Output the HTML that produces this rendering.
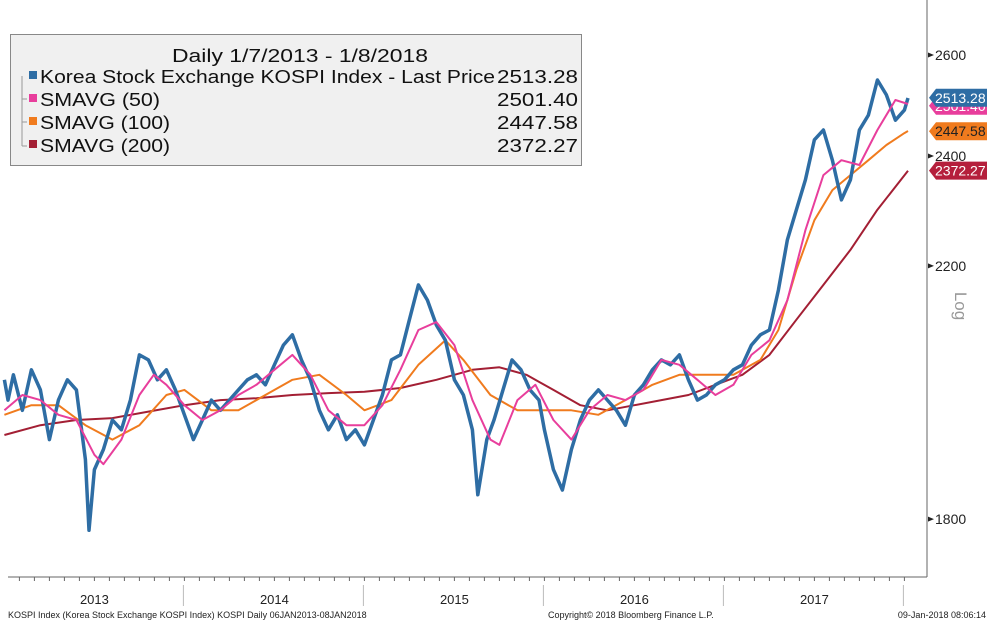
<!DOCTYPE html>
<html><head><meta charset="utf-8"><style>
html,body{margin:0;padding:0;background:#fff;}
svg{display:block;font-family:"Liberation Sans",sans-serif;}
</style></head><body>
<svg id="c" width="994" height="642" viewBox="0 0 994 642"></svg>
<script>
const priceDates=[2013.0,2013.02,2013.05,2013.1,2013.15,2013.2,2013.25,2013.3,2013.35,2013.4,2013.45,2013.47,2013.5,2013.55,2013.6,2013.65,2013.7,2013.75,2013.8,2013.85,2013.9,2013.95,2014.0,2014.05,2014.1,2014.15,2014.2,2014.3,2014.35,2014.4,2014.45,2014.5,2014.55,2014.6,2014.65,2014.7,2014.75,2014.8,2014.85,2014.9,2014.95,2015.0,2015.05,2015.1,2015.15,2015.2,2015.25,2015.3,2015.35,2015.4,2015.45,2015.5,2015.55,2015.6,2015.63,2015.68,2015.72,2015.77,2015.82,2015.87,2015.92,2015.97,2016.0,2016.05,2016.1,2016.15,2016.2,2016.25,2016.3,2016.35,2016.4,2016.45,2016.5,2016.55,2016.6,2016.65,2016.7,2016.75,2016.8,2016.85,2016.9,2016.95,2017.0,2017.05,2017.1,2017.15,2017.2,2017.25,2017.3,2017.35,2017.4,2017.45,2017.5,2017.55,2017.6,2017.65,2017.7,2017.75,2017.8,2017.85,2017.9,2017.95,2018.0,2018.02];
const priceValues=[2010,1978,2018,1962,2026,1994,1917,1978,2010,1994,1887,1784,1872,1902,1947,1932,1978,2050,2042,2010,2026,1994,1955,1917,1947,1978,1962,1994,2010,2018,2002,2034,2066,2083,2042,2010,1962,1932,1955,1917,1932,1909,1947,1986,2042,2050,2108,2167,2141,2099,2074,2010,1986,1932,1835,1917,1947,1994,2042,2026,1994,1978,1932,1872,1842,1902,1947,1978,1994,1978,1962,1939,1986,2002,2026,2042,2034,2050,2010,1978,1986,2002,2010,2026,2034,2066,2083,2091,2158,2246,2300,2355,2431,2450,2392,2318,2355,2450,2479,2549,2519,2469,2489,2513];
const sma50Dates=[2013.0,2013.1,2013.2,2013.3,2013.4,2013.5,2013.55,2013.65,2013.75,2013.83,2013.9,2014.0,2014.1,2014.2,2014.3,2014.4,2014.5,2014.6,2014.7,2014.8,2014.9,2015.0,2015.1,2015.2,2015.3,2015.4,2015.5,2015.6,2015.7,2015.75,2015.85,2015.95,2016.05,2016.15,2016.25,2016.35,2016.45,2016.55,2016.65,2016.75,2016.85,2016.95,2017.05,2017.15,2017.25,2017.35,2017.45,2017.55,2017.65,2017.75,2017.85,2017.95,2018.02];
const sma50Values=[1962,1986,1978,1955,1947,1894,1880,1917,1986,2018,2002,1970,1947,1962,1986,2002,2026,2050,2018,1962,1939,1939,1970,2026,2091,2104,2066,1978,1917,1909,1978,2002,1947,1917,1962,1986,1978,1994,2042,2034,2010,1986,2002,2050,2074,2141,2263,2364,2392,2383,2450,2509,2501];
const sma100Dates=[2013.0,2013.15,2013.3,2013.45,2013.6,2013.75,2013.9,2014.0,2014.15,2014.3,2014.45,2014.6,2014.75,2014.9,2015.0,2015.15,2015.3,2015.45,2015.55,2015.7,2015.85,2016.0,2016.15,2016.3,2016.45,2016.6,2016.75,2016.9,2017.05,2017.2,2017.3,2017.4,2017.5,2017.6,2017.7,2017.8,2017.9,2018.0,2018.02];
const sma100Values=[1955,1970,1970,1939,1917,1939,1986,1994,1962,1962,1986,2010,2018,1986,1962,1978,2034,2074,2042,1986,1962,1962,1962,1955,1978,2002,2018,2018,2018,2042,2091,2193,2281,2336,2364,2392,2421,2444,2448];
const sma200Dates=[2013.0,2013.2,2013.4,2013.6,2013.8,2014.0,2014.2,2014.4,2014.6,2014.8,2015.0,2015.2,2015.4,2015.6,2015.75,2015.9,2016.05,2016.2,2016.35,2016.5,2016.65,2016.8,2016.95,2017.1,2017.25,2017.4,2017.55,2017.7,2017.85,2018.02];
const sma200Values=[1924,1939,1947,1950,1960,1970,1978,1981,1986,1989,1991,1997,2010,2026,2030,2018,1994,1970,1962,1970,1978,1986,2002,2018,2050,2108,2167,2228,2300,2372];
const yTicks=[2600,2400,2200,1800];
const years=[2013,2014,2015,2016,2017];
const lastLabels=["2513.28","2501.40","2447.58","2372.27"];
const lastValues=[2513.28,2501.40,2447.58,2372.27];

const NS="http://www.w3.org/2000/svg";
const svg=document.getElementById('c');
function X(t){return 8+(t-2013.02)*180;}
function Y(v){return 55+Math.log(2600/v)*1262;}
function el(tag,attrs,parent){const e=document.createElementNS(NS,tag);for(const k in attrs)e.setAttribute(k,attrs[k]);(parent||svg).appendChild(e);return e;}

let a=el('line',{x1:927,y1:0,x2:927,y2:577,stroke:'#666','stroke-width':1});


a=el('line',{x1:8,y1:577,x2:927,y2:577,stroke:'#666','stroke-width':1});


for(let m=0;m<61;m++){const t=2013+m/12;const x=X(t);if(x<8||x>927)continue;
 const tk=el('line',{x1:x,y1:577,x2:x,y2:581,stroke:'#666'});
 
 }
for(let i=1;i<=years.length;i++){const x=X(2013+i)-1;
 const d=el('line',{x1:x,y1:585,x2:x,y2:606,stroke:'#bbb'});
 
 }
years.forEach(yr=>{const t=el('text',{x:X(yr+0.5),y:604,'font-size':13,'text-anchor':'middle',fill:'#222'});t.textContent=yr;
 
 });
yTicks.forEach(v=>{const y=Y(v);
 const p=el('path',{d:`M928 ${y-2.5} L934 ${y} L928 ${y+2.5}Z`,fill:'#222'});
 
 
 const t=el('text',{x:935,y:y+5,'font-size':14,fill:'#222'});t.textContent=v;
 
 });
let lg=el('text',{x:0,y:0,'font-size':17,fill:'#999',transform:'translate(955,306) rotate(90)','text-anchor':'middle'});lg.textContent='Log';



function line(dates,vals,color,w,name){let d='';dates.forEach((t,i)=>{d+=(i?'L':'M')+X(t).toFixed(1)+' '+Y(vals[i]).toFixed(1);});
 const p=el('path',{d:d,fill:'none',stroke:color,'stroke-width':w,'stroke-linejoin':'round'});
 
 }
line(sma200Dates,sma200Values,'#a31f34',2,'sma200-line');
line(sma100Dates,sma100Values,'#f07b1e',2,'sma100-line');
line(priceDates,priceValues,'#2e6da4',3.5,'kospi-price-line');
line(sma50Dates,sma50Values,'#e83e9c',2,'sma50-line');

const tagColors=['#2e6da4','#e83e9c','#f07b1e','#b51f3c'];
const tagY=[Y(lastValues[0]),Y(lastValues[0])+8,Y(lastValues[2]),Y(lastValues[3])];
[1,0,2,3].forEach(i=>{const y=tagY[i];
 const p=el('path',{d:`M929 ${y} L936 ${y-9} L987 ${y-9} L987 ${y+9} L936 ${y+9}Z`,fill:tagColors[i]});
 
 
 const t=el('text',{x:935,y:y+5,'font-size':14,fill:i===2?'#222':'#fff'});t.textContent=lastLabels[i];
 
 });

const g=el('g',{});


el('rect',{x:10.5,y:34.5,width:571,height:131,fill:'#f0f0f0',stroke:'#888'},g);
let tt=el('text',{x:172,y:62,'font-size':18,fill:'#111',textLength:256,lengthAdjust:'spacingAndGlyphs'},g);tt.textContent='Daily 1/7/2013 - 1/8/2018';


el('path',{d:'M22 76 V146 M22 99 H27 M22 122 H27 M22 146 H27',stroke:'#999',fill:'none'},g);
const names=['Korea Stock Exchange KOSPI Index - Last Price','SMAVG (50)','SMAVG (100)','SMAVG (200)'];
const nameW=[455,120,130,130];
const vals=['2513.28','2501.40','2447.58','2372.27'];
const lc=['#2e6da4','#e83e9c','#f07b1e','#a31f34'];
names.forEach((n,i)=>{const y=77+i*23;
 const r=el('rect',{x:29,y:y-6,width:8,height:8,fill:lc[i]},g);
 
 
 const t=el('text',{x:40,y:y+6,'font-size':18,fill:'#111',textLength:nameW[i],lengthAdjust:'spacingAndGlyphs'},g);t.textContent=n;
 
 
 const v=el('text',{x:497,y:y+6,'font-size':18,fill:'#111',textLength:81,lengthAdjust:'spacingAndGlyphs'},g);v.textContent=vals[i];
 
 });

[[8,'start','KOSPI Index (Korea Stock Exchange KOSPI Index) KOSPI  Daily 06JAN2013-08JAN2018','footer-source'],[548,'start','Copyright© 2018 Bloomberg Finance L.P.','footer-copyright'],[986,'end','09-Jan-2018 08:06:14','footer-timestamp']].forEach(f=>{
 const t=el('text',{x:f[0],y:618,'font-size':9,'text-anchor':f[1],fill:'#222'});t.textContent=f[2];
 
 });
</script>
</body></html>
